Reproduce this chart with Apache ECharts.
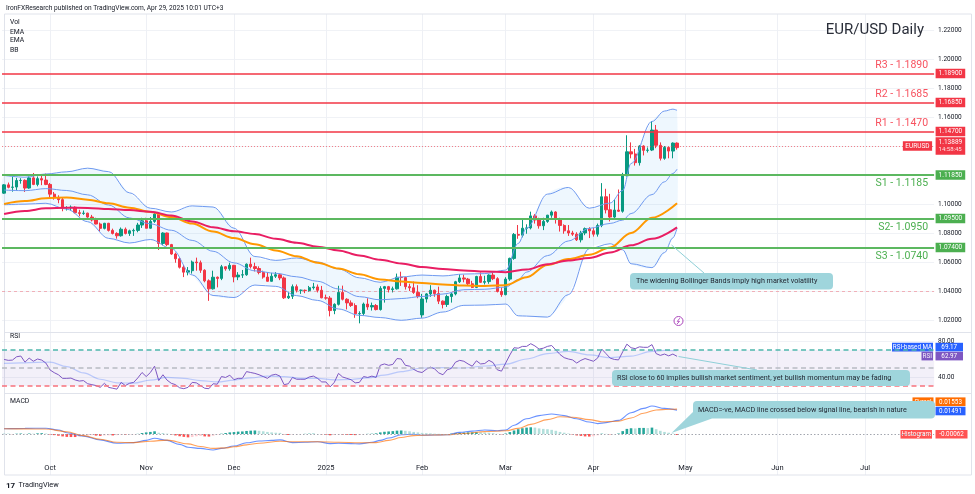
<!DOCTYPE html>
<html><head><meta charset="utf-8">
<script src="https://cdn.jsdelivr.net/npm/echarts@6/dist/echarts.min.js"></script>
<style>html,body{margin:0;padding:0;background:#fff}#c{width:975px;height:494px}</style>
</head><body><div id="c"></div>
<script>
const FONT = 'Roboto, "Noto Sans", sans-serif';

// ---- categories ----
const startDate = '2024-09-16';
const totalBars = 223;
const monthLabels = ['Oct','Nov','Dec','2025','Feb','Mar','Apr','May','Jun','Jul'];
const monthStarts = ['2024-10-01','2024-11-01','2024-12-02','2025-01-01','2025-02-03','2025-03-03','2025-04-01','2025-05-01','2025-06-02','2025-07-01'];

// ---- daily candles [open, high, low, close] ----
const ohlc = [
// Sep
[1.1075,1.1137,1.1070,1.1132],[1.1132,1.1148,1.1108,1.1115],[1.1115,1.1190,1.1085,1.1117],[1.1117,1.1180,1.1090,1.1162],
[1.1162,1.1178,1.1140,1.1163],[1.1163,1.1170,1.1083,1.1110],[1.1110,1.1190,1.1105,1.1180],[1.1180,1.1214,1.1130,1.1135],
[1.1135,1.1190,1.1122,1.1175],[1.1175,1.1202,1.1130,1.1165],[1.1165,1.1210,1.1130,1.1135],
// Oct
[1.1135,1.1145,1.1045,1.1068],[1.1068,1.1083,1.1030,1.1045],[1.1045,1.1060,1.1005,1.1030],[1.1030,1.1045,1.0950,1.0975],
[1.0975,1.0985,1.0955,1.0975],[1.0975,1.0990,1.0955,1.0978],[1.0978,1.0984,1.0935,1.0940],[1.0940,1.0960,1.0915,1.0935],
[1.0935,1.0955,1.0925,1.0937],[1.0937,1.0940,1.0905,1.0910],[1.0910,1.0925,1.0880,1.0890],[1.0890,1.0905,1.0860,1.0862],
[1.0862,1.0872,1.0810,1.0832],[1.0832,1.0870,1.0825,1.0867],[1.0867,1.0870,1.0810,1.0818],[1.0818,1.0830,1.0790,1.0797],
[1.0797,1.0805,1.0761,1.0781],[1.0781,1.0838,1.0775,1.0826],[1.0826,1.0838,1.0790,1.0797],[1.0797,1.0823,1.0780,1.0815],
[1.0815,1.0830,1.0780,1.0818],[1.0818,1.0870,1.0805,1.0855],[1.0855,1.0905,1.0835,1.0884],
// Nov
[1.0884,1.0905,1.0832,1.0833],[1.0833,1.0910,1.0830,1.0880],[1.0880,1.0937,1.0870,1.0930],[1.0930,1.0937,1.0683,1.0728],
[1.0728,1.0805,1.0715,1.0800],[1.0800,1.0803,1.0710,1.0720],[1.0720,1.0725,1.0650,1.0655],[1.0655,1.0665,1.0595,1.0622],
[1.0622,1.0635,1.0555,1.0564],[1.0564,1.0580,1.0496,1.0530],[1.0530,1.0565,1.0508,1.0540],[1.0540,1.0610,1.0520,1.0600],
[1.0600,1.0630,1.0540,1.0595],[1.0595,1.0610,1.0525,1.0543],[1.0543,1.0550,1.0460,1.0470],[1.0470,1.0480,1.0332,1.0415],
[1.0415,1.0540,1.0410,1.0495],[1.0495,1.0500,1.0425,1.0487],[1.0487,1.0580,1.0475,1.0567],[1.0567,1.0570,1.0540,1.0553],
[1.0553,1.0595,1.0540,1.0577],
// Dec
[1.0577,1.0580,1.0460,1.0497],[1.0497,1.0530,1.0475,1.0510],[1.0510,1.0545,1.0490,1.0512],[1.0512,1.0590,1.0505,1.0585],
[1.0585,1.0630,1.0555,1.0568],[1.0568,1.0595,1.0535,1.0555],[1.0555,1.0570,1.0515,1.0528],[1.0528,1.0540,1.0485,1.0496],
[1.0496,1.0530,1.0465,1.0467],[1.0467,1.0525,1.0465,1.0502],[1.0502,1.0530,1.0490,1.0512],[1.0512,1.0520,1.0475,1.0490],
[1.0490,1.0500,1.0345,1.0353],[1.0353,1.0395,1.0345,1.0364],[1.0364,1.0445,1.0345,1.0430],[1.0430,1.0445,1.0390,1.0405],
[1.0405,1.0410,1.0380,1.0405],[1.0405,1.0410,1.0385,1.0403],[1.0403,1.0435,1.0395,1.0423],[1.0423,1.0456,1.0410,1.0428],
[1.0428,1.0445,1.0390,1.0405],[1.0405,1.0435,1.0350,1.0353],
// Jan
[1.0353,1.0375,1.0340,1.0351],[1.0351,1.0365,1.0225,1.0265],[1.0265,1.0315,1.0240,1.0308],[1.0308,1.0436,1.0300,1.0390],
[1.0390,1.0437,1.0335,1.0343],[1.0343,1.0350,1.0273,1.0318],[1.0318,1.0335,1.0290,1.0300],[1.0300,1.0315,1.0215,1.0243],
[1.0243,1.0260,1.0177,1.0245],[1.0245,1.0320,1.0232,1.0310],[1.0310,1.0350,1.0270,1.0290],[1.0290,1.0320,1.0265,1.0300],
[1.0300,1.0310,1.0266,1.0272],[1.0272,1.0433,1.0265,1.0418],[1.0418,1.0435,1.0320,1.0430],[1.0430,1.0435,1.0390,1.0410],
[1.0410,1.0430,1.0390,1.0415],[1.0415,1.0520,1.0410,1.0495],[1.0495,1.0533,1.0435,1.0493],[1.0493,1.0495,1.0410,1.0430],
[1.0430,1.0450,1.0400,1.0422],[1.0422,1.0465,1.0380,1.0390],[1.0390,1.0440,1.0350,1.0362],
// Feb
[1.0235,1.0380,1.0215,1.0345],[1.0345,1.0385,1.0320,1.0380],[1.0380,1.0440,1.0360,1.0405],[1.0405,1.0410,1.0360,1.0382],
[1.0382,1.0430,1.0310,1.0330],[1.0330,1.0335,1.0280,1.0307],[1.0307,1.0375,1.0290,1.0362],[1.0362,1.0390,1.0320,1.0380],
[1.0380,1.0470,1.0370,1.0464],[1.0464,1.0515,1.0455,1.0490],[1.0490,1.0513,1.0460,1.0482],[1.0482,1.0490,1.0440,1.0450],
[1.0450,1.0470,1.0420,1.0425],[1.0425,1.0505,1.0420,1.0500],[1.0500,1.0528,1.0455,1.0460],[1.0460,1.0505,1.0445,1.0465],
[1.0465,1.0515,1.0450,1.0510],[1.0510,1.0530,1.0475,1.0485],[1.0485,1.0495,1.0390,1.0397],[1.0397,1.0425,1.0360,1.0375],
// Mar
[1.0375,1.0495,1.0370,1.0482],[1.0482,1.0630,1.0470,1.0625],[1.0625,1.0800,1.0615,1.0790],[1.0790,1.0855,1.0760,1.0785],
[1.0785,1.0890,1.0770,1.0833],[1.0833,1.0860,1.0795,1.0835],[1.0835,1.0947,1.0825,1.0918],[1.0918,1.0930,1.0865,1.0890],
[1.0890,1.0905,1.0830,1.0850],[1.0850,1.0905,1.0820,1.0880],[1.0880,1.0925,1.0870,1.0923],[1.0923,1.0955,1.0905,1.0945],
[1.0945,1.0950,1.0865,1.0900],[1.0900,1.0905,1.0810,1.0852],[1.0852,1.0860,1.0795,1.0815],[1.0815,1.0855,1.0780,1.0800],
[1.0800,1.0815,1.0780,1.0792],[1.0792,1.0805,1.0745,1.0753],[1.0753,1.0815,1.0735,1.0800],[1.0800,1.0838,1.0785,1.0830],
[1.0830,1.0840,1.0765,1.0815],
// Apr
[1.0815,1.0835,1.0775,1.0792],[1.0792,1.0865,1.0775,1.0852],[1.0852,1.1144,1.0840,1.1050],[1.1050,1.1105,1.0935,1.0960],
[1.0960,1.1070,1.0880,1.0910],[1.0910,1.1030,1.0900,1.0958],[1.0958,1.1100,1.0945,1.0950],[1.0950,1.1215,1.0940,1.1195],
[1.1195,1.1474,1.1190,1.1360],[1.1360,1.1425,1.1315,1.1345],[1.1345,1.1380,1.1265,1.1285],[1.1285,1.1405,1.1265,1.1400],
[1.1400,1.1405,1.1335,1.1370],[1.1370,1.1390,1.1355,1.1372],[1.1372,1.1572,1.1365,1.1510],[1.1510,1.1545,1.1385,1.1405],
[1.1405,1.1425,1.1300,1.1315],[1.1315,1.1400,1.1305,1.1390],[1.1390,1.1395,1.1315,1.1365],[1.1365,1.1425,1.1315,1.1420],
[1.1420,1.1425,1.1375,1.13889]
];

// ---- overlays: [barIndex, value] ----
const emaOrange = [[0,1.1000],[5,1.1020],[10,1.1040],[15,1.1045],[20,1.1030],[25,1.1005],[30,1.0975],[35,1.0945],[40,1.0910],
[45,1.0865],[50,1.0810],[55,1.0765],[60,1.0722],[65,1.0680],[70,1.0640],[75,1.0595],[80,1.0555],[85,1.0515],[90,1.0480],
[95,1.0465],[100,1.0455],[105,1.0445],[110,1.0438],[115,1.0435],[120,1.0440],[125,1.0495],[130,1.0580],[135,1.0620],
[140,1.0650],[145,1.0700],[150,1.0800],[155,1.0905],[161,1.1005]];
const emaRed = [[0,1.0931],[5,1.0952],[10,1.0970],[15,1.0975],[20,1.0973],[25,1.0966],[30,1.0958],[35,1.0947],[40,1.0920],
[45,1.0880],[50,1.0840],[55,1.0812],[60,1.0793],[65,1.0760],[70,1.0733],[75,1.0706],[80,1.0680],[85,1.0645],[90,1.0615],
[95,1.0590],[100,1.0565],[105,1.0552],[110,1.0542],[115,1.0535],[120,1.0530],[125,1.0548],[130,1.0585],[135,1.0610],
[140,1.0628],[145,1.0665],[150,1.0715],[155,1.0760],[161,1.0839]];
const bbUpper = [[0,1.1197],[5,1.1185],[10,1.1207],[15,1.1222],[20,1.1247],[25,1.1223],[30,1.1077],[35,1.0971],[40,1.0945],
[45,1.0987],[50,1.0979],[55,1.0833],[60,1.0638],[65,1.0611],[70,1.0628],[75,1.0600],[80,1.0552],[85,1.0491],[90,1.0460],
[95,1.0497],[100,1.0510],[105,1.0504],[110,1.0517],[115,1.0520],[120,1.0544],[123,1.0728],[125,1.0833],[130,1.1068],
[135,1.1114],[140,1.0971],[145,1.1007],[148,1.1093],[150,1.1279],[155,1.1569],[158,1.1641],[160,1.1654],[161,1.1646]];
const bbMid = [[0,1.1096],[5,1.1092],[10,1.1106],[15,1.1093],[20,1.1063],[25,1.0993],[30,1.0904],[35,1.0863],[40,1.0819],
[45,1.0749],[50,1.0674],[55,1.0594],[60,1.0539],[65,1.0522],[70,1.0498],[75,1.0467],[80,1.0414],[85,1.0361],[90,1.0339],
[95,1.0348],[100,1.0362],[105,1.0379],[110,1.0409],[115,1.0412],[120,1.0427],[123,1.0478],[125,1.0530],[130,1.0644],
[135,1.0745],[140,1.0832],[145,1.0866],[148,1.0889],[150,1.0934],[155,1.1065],[158,1.1153],[160,1.1210],[161,1.1240]];
const bbLower = [[0,1.0995],[5,1.0999],[10,1.1005],[15,1.0964],[20,1.0878],[25,1.0763],[30,1.0731],[35,1.0755],[40,1.0694],
[45,1.0511],[50,1.0369],[55,1.0355],[60,1.0441],[65,1.0432],[70,1.0368],[75,1.0335],[80,1.0276],[85,1.0232],[90,1.0217],
[95,1.0198],[100,1.0213],[105,1.0255],[110,1.0301],[115,1.0303],[120,1.0310],[123,1.0229],[125,1.0227],[130,1.0220],
[135,1.0375],[140,1.0692],[145,1.0726],[148,1.0684],[150,1.0588],[155,1.0561],[158,1.0665],[160,1.0766],[161,1.0834]];

// ---- RSI (daily) and its moving average ----
const rsi = [
59.5,58.5,58.8,62.5,63.3,56.5,61,57.5,60,58.8,55.5,
47.8,44.8,42.5,38.5,38.5,38.8,36.7,35.5,36,32.5,31.5,30.5,28.5,33,28.5,27.5,26.5,34,30.5,33,34,39,45,
40.5,45,52,36,42.5,36.5,33,31.5,28,27,28.5,34,33.5,30.5,27.5,27,32.5,32,40.5,39.5,42,
37,38.5,38.5,46,45,44,42.5,40.5,38.5,42,43,41,31.5,32.5,39.5,37.5,37.5,37.5,40,41,38.5,34.5,
34.5,29,34,44,40,38.5,37,33.5,34,40.5,39.5,41,39.5,53,54.5,53,54,60.5,60,53,52,48.5,46,
45,48.5,51,49,44.5,42.5,48,49.5,56.5,58.5,57.5,54.5,52,58,54.5,55,58.5,56,48,46.5,
55.5,64.5,72.5,72,74,74,77,74.5,71,72,74,75,70,65,61.5,60,59,55.5,58.5,60.5,59,
57.5,61,71,66,61,59.5,59,68,76.5,72.5,71.5,73.5,73,73,76,66,64,65.5,63.5,65.5,62.97
];
const rsiMA = [[0,55.2],[4,55.8],[8,56.3],[11,56.5],[15,51.5],[19,44.5],[23,37.5],[27,33.5],[31,33.2],[35,36.5],[39,39.5],
[43,38.5],[47,36],[51,34.5],[55,36.5],[59,39],[63,41],[67,40.5],[71,38.5],[75,38.5],[79,36.8],[83,37.2],[87,39],[91,42],
[95,46],[100,50],[105,50.5],[110,50],[115,52.2],[120,54.3],[125,60],[130,66],[135,68.5],[140,64.5],[145,61.5],[150,63.2],
[155,68.5],[158,69.5],[161,69.17]];
const rsiLevels = [70, 50, 30];

// ---- MACD ----
const macdLine = [[0,0.0033],[5,0.0035],[10,0.0036],[13,0.0025],[15,0.0008],[19,-0.0013],[23,-0.0037],[27,-0.0058],[31,-0.0054],
[34,-0.0040],[36,-0.0027],[39,-0.0040],[42,-0.0065],[44,-0.0083],[47,-0.0090],[50,-0.0100],[52,-0.0090],[55,-0.0075],
[58,-0.0055],[61,-0.0044],[64,-0.0040],[66,-0.0037],[69,-0.0054],[72,-0.0052],[75,-0.0048],[78,-0.0060],[80,-0.0058],
[83,-0.0060],[85,-0.0062],[88,-0.0052],[90,-0.0040],[92,-0.0025],[95,-0.0005],[98,-0.0002],[100,-0.0008],[103,-0.0006],
[106,-0.0005],[109,0.0010],[112,0.0018],[115,0.0025],[118,0.0020],[120,0.0025],[122,0.0055],[125,0.0095],[128,0.0115],
[131,0.0125],[134,0.0115],[137,0.0095],[140,0.0075],[142,0.0065],[144,0.0071],[147,0.0085],[150,0.0133],[153,0.0160],
[155,0.0175],[158,0.0160],[161,0.01491]];
const signalLine = [[0,0.0033],[5,0.0032],[10,0.0031],[15,0.0014],[19,-0.0010],[23,-0.0033],[27,-0.0052],[31,-0.0054],
[35,-0.0045],[39,-0.0038],[44,-0.0062],[47,-0.0078],[50,-0.0090],[53,-0.0087],[55,-0.0080],[58,-0.0068],[61,-0.0058],
[66,-0.0045],[69,-0.0048],[75,-0.0048],[80,-0.0052],[85,-0.0055],[89,-0.0054],[92,-0.0040],[95,-0.0022],[98,-0.0010],
[102,-0.0006],[106,-0.0005],[110,0.0003],[115,0.0015],[120,0.0020],[123,0.0035],[126,0.0060],[130,0.0090],[133,0.0108],
[136,0.0105],[140,0.0090],[143,0.0077],[147,0.0080],[150,0.0100],[153,0.0130],[156,0.0150],[159,0.0155],[161,0.01553]];
const histogram = [
0.0001,0.0001,-0.0001,0.0002,0.0003,0.0001,0.0003,0.0002,0.0004,0.0005,0.0003,
-0.0003,-0.0007,-0.0011,-0.0015,-0.0018,-0.0019,-0.0019,-0.0016,-0.0012,-0.0009,-0.0007,
-0.0010,-0.0012,-0.0009,-0.0008,-0.0009,-0.0007,-0.0005,-0.0005,-0.0003,-0.0002,0.0001,
0.0006,0.0010,0.0013,0.0017,0.0008,0.0006,0.0002,-0.0004,-0.0009,
-0.0014,-0.0018,-0.0021,-0.0019,-0.0014,-0.0012,-0.0015,-0.0016,-0.0011,-0.0004,
0.0002,0.0006,0.0010,0.0012,0.0015,0.0016,0.0019,0.0021,0.0022,0.0020,
0.0017,0.0013,0.0010,0.0008,0.0007,-0.0002,-0.0006,
-0.0003,-0.0002,-0.0001,0.0001,0.0002,0.0002,0.0000,-0.0002,-0.0004,-0.0008,-0.0006,
-0.0003,-0.0004,-0.0005,-0.0006,-0.0007,-0.0006,-0.0002,
0.0001,0.0002,0.0004,0.0010,0.0014,0.0016,0.0018,0.0021,0.0022,
0.0020,0.0017,0.0013,0.0010,0.0007,0.0005,0.0004,0.0002,0.0001,-0.0001,0.0000,0.0002,0.0005,
0.0007,0.0009,0.0010,0.0010,0.0011,0.0010,0.0009,0.0008,0.0005,0.0001,-0.0002,0.0003,
0.0012,0.0022,0.0030,0.0036,0.0040,0.0042,0.0040,0.0035,
0.0032,0.0030,0.0026,0.0020,0.0013,0.0008,0.0003,
-0.0003,-0.0009,-0.0012,-0.0015,-0.0016,-0.0014,-0.0008,
0.0002,0.0001,-0.0002,0.0000,0.0003,
0.0018,0.0032,0.0036,0.0035,0.0038,0.0038,0.0037,0.0040,0.0030,
0.0020,0.0013,0.0008,0.0003,-0.00062
];

// ---- drawn levels ----
const levels = [
  {name:'R3 - 1.1890', value:1.1890, side:'R'},
  {name:'R2 - 1.1685', value:1.1685, side:'R'},
  {name:'R1 - 1.1470', value:1.1470, side:'R'},
  {name:'S1 - 1.1185', value:1.1185, side:'S'},
  {name:'S2- 1.0950', value:1.0950, side:'S'},
  {name:'S3 - 1.0740', value:1.0740, side:'S'}
];
const lastPrice = 1.13889;
const countdown = '14:58:45';
const refDashed = 1.0418;

// ---- build ----
const dates = [];
(function(){
  let t = Date.parse(startDate + 'T00:00:00Z');
  while (dates.length < totalBars) {
    const d = new Date(t); const w = d.getUTCDay();
    if (w !== 0 && w !== 6) dates.push(d.toISOString().slice(0,10));
    t += 86400000;
  }
})();
const monthIdx = {};
monthStarts.forEach((s,k) => { monthIdx[dates.indexOf(s)] = monthLabels[k]; });

const candleData = ohlc.map(r => [r[0], r[3], r[2], r[1]]);
const histData = histogram.map((v,i) => {
  const p = i > 0 ? histogram[i-1] : 0;
  let c;
  if (v >= 0) c = v >= p ? '#26a69a' : '#b2dfdb';
  else c = v <= p ? '#ff5252' : '#ffcdd2';
  return {value: v, itemStyle: {color: c}};
});

const HIDDEN = {color: 'rgba(0,0,0,0)', width: 0, opacity: 1};
const markData = [];
levels.forEach(l => {
  const isR = l.side === 'R';
  const lc = isR ? '#f23645' : '#4caf50';
  markData.push({yAxis: l.value, lineStyle: {color: isR ? '#f23645' : '#5cb860', width: isR ? 1.5 : 1.8, type: 'solid', opacity: 1},
    label: {show: true, position: isR ? 'insideEndTop' : 'insideEndBottom', formatter: l.name,
      color: isR ? '#f7525f' : '#4caf50', fontSize: 10.5, fontFamily: FONT, distance: [6, 3]}});
  markData.push({yAxis: l.value, lineStyle: HIDDEN,
    label: {show: true, position: 'end', formatter: l.value.toFixed(5), color: '#fff', backgroundColor: lc,
      fontSize: 6.5, fontFamily: FONT, padding: [1.5, 3, 1, 3], distance: 1.5}});
});
markData.push({yAxis: lastPrice, lineStyle: {color: 'rgba(242,54,69,0.6)', type: [1, 2], width: 1, opacity: 1},
  label: {show: true, position: 'insideEnd', formatter: 'EURUSD', color: '#fff', backgroundColor: '#f23645',
    fontSize: 6.5, fontFamily: FONT, padding: [1.5, 2.5, 1, 2.5], distance: 2}});
markData.push({yAxis: lastPrice, lineStyle: HIDDEN,
  label: {show: true, position: 'end', formatter: '{a|' + lastPrice.toFixed(5) + '}\n{b|' + countdown + '}',
    backgroundColor: '#f23645', padding: [1.5, 3, 1.5, 3], distance: 1.5,
    rich: {a: {color: '#fff', fontSize: 6.5, lineHeight: 7.5, fontFamily: FONT}, b: {color: '#ffe0e3', fontSize: 6, lineHeight: 7, fontFamily: FONT}}}});
markData.push({yAxis: refDashed, lineStyle: {color: 'rgba(242,54,69,0.35)', type: [3, 3], width: 1}, label: {show: false}});

function lineSeries(name, data, xi, yi, color, width, extra) {
  return Object.assign({name, type: 'line', data, xAxisIndex: xi, yAxisIndex: yi, symbol: 'none', showSymbol: false,
    smooth: 0.35, smoothMonotone: 'x', silent: true, lineStyle: {color, width}, z: 3}, extra || {});
}

const BBC = '#6f9af0';
const series = [
  {type: 'custom', name: 'BB fill', xAxisIndex: 1, yAxisIndex: 0, data: [[bbUpper[0][0], bbUpper[0][1]]], silent: true, z: 1,
    renderItem: (params, api) => {
      if (params.dataIndex !== 0) return;
      const pts = bbUpper.map(p => api.coord([p[0], p[1]]))
        .concat(bbLower.slice().reverse().map(p => api.coord([p[0], p[1]])));
      return {type: 'polygon', shape: {points: pts, smooth: 0.3}, style: {fill: 'rgba(33,150,243,0.075)'}};
    }},
  {type: 'candlestick', name: 'EURUSD', xAxisIndex: 0, yAxisIndex: 0, data: candleData, barWidth: '68%', silent: true, z: 2,
    itemStyle: {color: '#089981', color0: '#f23645', borderColor: '#089981', borderColor0: '#f23645', borderWidth: 1},
    markLine: {silent: true, symbol: ['none', 'none'], animation: false, data: markData, z: 6}},
  lineSeries('BB lower', bbLower, 1, 0, BBC, 1),
  lineSeries('BB upper', bbUpper, 1, 0, BBC, 1),
  lineSeries('BB basis', bbMid, 1, 0, BBC, 1),
  lineSeries('EMA', emaOrange, 1, 0, '#ff9800', 2),
  lineSeries('EMA', emaRed, 1, 0, '#e91e63', 2),
  {type: 'line', name: 'RSI', xAxisIndex: 2, yAxisIndex: 1, data: rsi, symbol: 'none', silent: true,
    lineStyle: {color: '#7e57c2', width: 1}, z: 3,
    markArea: {silent: true, itemStyle: {color: 'rgba(126,87,194,0.09)'}, data: [[{yAxis: rsiLevels[2]}, {yAxis: rsiLevels[0]}]]},
    markLine: {silent: true, symbol: ['none', 'none'], label: {show: false}, data: [
      {yAxis: rsiLevels[0], lineStyle: {color: '#4db6ac', type: [5, 3.5], width: 1.6}},
      {yAxis: rsiLevels[1], lineStyle: {color: '#b8bac2', type: [5, 3.5], width: 1.6}},
      {yAxis: rsiLevels[2], lineStyle: {color: '#f7727c', type: [5, 3.5], width: 1.6}}]}},
  lineSeries('RSI-based MA', rsiMA, 3, 1, 'rgba(41,98,255,0.28)', 1.2),
  {type: 'bar', name: 'Histogram', xAxisIndex: 4, yAxisIndex: 2, data: histData, barWidth: '62%', silent: true, z: 2,
    markLine: {silent: true, symbol: ['none', 'none'], label: {show: false},
      data: [{yAxis: 0, lineStyle: {color: '#a3a6af', type: [1.5, 2], width: 1}}]}},
  lineSeries('MACD', macdLine, 5, 2, 'rgba(41,98,255,0.7)', 1.1),
  lineSeries('Signal', signalLine, 5, 2, 'rgba(255,109,0,0.65)', 1.1)
];

function tag(x, y, w, h, color, text, fs) {
  return {type: 'group', z: 120, children: [
    {type: 'rect', shape: {x, y, width: w, height: h}, style: {fill: color}},
    {type: 'text', x: x + w / 2, y: y + h / 2 + 0.3, style: {text, fill: '#fff', fontSize: fs || 6.3, fontFamily: FONT, textAlign: 'center', textVerticalAlign: 'middle'}}
  ]};
}
function txt(x, y, text, fs, color, align, weight) {
  return {type: 'text', x, y, z: 110, style: {text, fontSize: fs, fill: color || '#131722', fontFamily: FONT,
    textAlign: align || 'left', textVerticalAlign: 'middle', fontWeight: weight || 'normal'}};
}
const NOTE = '#9fd5dc';
const NOTE_LINE = '#8fd0d8';
const lastRsi = rsi[rsi.length - 1].toFixed(2);
const lastRsiMA = rsiMA[rsiMA.length - 1][1].toFixed(2);
const lastMacd = macdLine[macdLine.length - 1][1].toFixed(5);
const lastSignal = signalLine[signalLine.length - 1][1].toFixed(5);
const lastHist = histogram[histogram.length - 1].toFixed(5);

const graphic = [
  {type: 'rect', z: 1, silent: true, shape: {x: 4.5, y: 14, width: 967, height: 461}, style: {fill: 'none', stroke: '#e0e3eb', lineWidth: 1}},
  {type: 'line', z: 1, silent: true, shape: {x1: 4.5, y1: 332.5, x2: 971.5, y2: 332.5}, style: {stroke: '#e0e3eb', lineWidth: 1}},
  {type: 'line', z: 1, silent: true, shape: {x1: 4.5, y1: 393.5, x2: 971.5, y2: 393.5}, style: {stroke: '#e0e3eb', lineWidth: 1}},
  txt(6, 8.5, 'IronFXResearch published on TradingView.com, Apr 29, 2025 10:01 UTC+3', 6.6),
  txt(10, 22.7, 'Vol', 6.8), txt(10, 32, 'EMA', 6.8), txt(10, 40.5, 'EMA', 6.8), txt(10, 50, 'BB', 6.8),
  txt(924, 30, 'EUR/USD Daily', 15, '#2a2e39', 'right'),
  txt(10, 336.5, 'RSI', 6.8), txt(10, 401.5, 'MACD', 6.8),
  {type: 'circle', z: 110, shape: {cx: 678.5, cy: 321, r: 4.5}, style: {fill: '#fff', stroke: '#ab47bc', lineWidth: 1}},
  {type: 'polyline', z: 111, shape: {points: [[679.8, 318.2], [677.3, 321.4], [679.5, 321.4], [677, 324]]}, style: {stroke: '#ab47bc', lineWidth: 0.9, fill: 'none'}},
  {type: 'line', z: 100, shape: {x1: 671.5, y1: 245, x2: 704, y2: 273}, style: {stroke: NOTE_LINE, lineWidth: 1}},
  {type: 'rect', z: 105, shape: {x: 630, y: 273, width: 203, height: 16.5, r: 4}, style: {fill: NOTE}},
  txt(636, 281.5, 'The widening Bollinger Bands imply high market volatility', 7.2, '#1e222d'),
  {type: 'line', z: 100, shape: {x1: 678.5, y1: 356.5, x2: 757, y2: 370}, style: {stroke: NOTE_LINE, lineWidth: 1}},
  {type: 'rect', z: 105, shape: {x: 612, y: 370, width: 298, height: 16, r: 4}, style: {fill: NOTE}},
  txt(617, 378.2, 'RSI close to 60 implies bullish market sentiment, yet bullish momentum may be fading', 7.2, '#1e222d'),
  {type: 'polygon', z: 104, shape: {points: [[694, 411], [712, 418.5], [671.5, 433]]}, style: {fill: NOTE}},
  {type: 'rect', z: 105, shape: {x: 693, y: 401, width: 242, height: 17.5, r: 4}, style: {fill: NOTE}},
  txt(698, 410, 'MACD=-ve, MACD line crossed below signal line, bearish in nature', 7.2, '#1e222d'),
  tag(892, 342.8, 41, 8.6, '#2962ff', 'RSI-based MA'), tag(935.5, 342.8, 27.5, 8.6, '#2962ff', lastRsiMA),
  tag(921.5, 351.8, 11.5, 8.6, '#7e57c2', 'RSI'), tag(935.5, 351.8, 27.5, 8.6, '#7e57c2', lastRsi),
  tag(912.5, 397.4, 21, 8.6, '#ff6d00', 'Signal'), tag(935.5, 397.4, 30, 8.6, '#ff6d00', lastSignal),
  tag(912.5, 406.7, 21, 8.6, '#2962ff', 'MACD'), tag(935.5, 406.7, 30, 8.6, '#2962ff', lastMacd),
  tag(900.5, 430, 31.5, 8.6, '#ff5252', 'Histogram'), tag(935.5, 430, 32, 8.6, '#ff5252', lastHist),
  txt(6, 485.5, '17', 8, '#131722', 'left', 'bold'),
  txt(18.5, 485.5, 'TradingView', 7.3, '#131722')
];

const option = {
  animation: false,
  backgroundColor: '#ffffff',
  textStyle: {fontFamily: FONT},
  grid: [
    {left: 2, top: 1, width: 932.1, height: 348},
    {left: 2, top: 305, width: 932.1, height: 108},
    {left: 2, top: 394, width: 932.1, height: 63},
    {left: 4.09, top: 14, width: 927.96, height: 461}
  ],
  xAxis: [
    {type: 'category', gridIndex: 0, data: dates, show: false},
    {type: 'value', gridIndex: 0, min: -0.5, max: totalBars - 0.5, show: false},
    {type: 'category', gridIndex: 1, data: dates, show: false},
    {type: 'value', gridIndex: 1, min: -0.5, max: totalBars - 0.5, show: false},
    {type: 'category', gridIndex: 2, data: dates, axisLine: {show: false}, axisTick: {show: false}, splitLine: {show: false},
      axisLabel: {interval: (i) => monthIdx[i] !== undefined, formatter: (v, i) => monthIdx[i] || '',
        color: '#131722', fontSize: 7.5, margin: 7, fontFamily: FONT}},
    {type: 'value', gridIndex: 2, min: -0.5, max: totalBars - 0.5, show: false},
    {type: 'category', gridIndex: 3, data: dates, boundaryGap: false, axisLine: {show: false}, axisTick: {show: false},
      axisLabel: {show: false}, splitLine: {show: true, interval: (i) => monthIdx[i] !== undefined, lineStyle: {color: '#eef0f5', width: 1}}}
  ],
  yAxis: [
    {type: 'value', gridIndex: 0, position: 'right', min: 1.00, max: 1.24, interval: 0.02, axisLine: {show: false}, axisTick: {show: false},
      axisLabel: {showMinLabel: false, showMaxLabel: false, formatter: v => v.toFixed(5), color: '#131722', fontSize: 6.5, margin: 4, fontFamily: FONT},
      splitLine: {show: true, showMinLine: false, showMaxLine: false, lineStyle: {color: '#f0f2f6'}}},
    {type: 'value', gridIndex: 1, position: 'right', min: 0, max: 120, interval: 40, axisLine: {show: false}, axisTick: {show: false},
      axisLabel: {showMinLabel: false, showMaxLabel: false, formatter: v => v.toFixed(2), color: '#131722', fontSize: 6.5, margin: 4, fontFamily: FONT},
      splitLine: {show: true, showMinLine: false, showMaxLine: false, lineStyle: {color: '#f0f2f6'}}},
    {type: 'value', gridIndex: 2, position: 'right', min: -0.014375, max: 0.025, show: false},
    {type: 'value', gridIndex: 3, min: 0, max: 1, show: false}
  ],
  series,
  graphic
};
const chart = echarts.init(document.getElementById('c'), null, {renderer: 'canvas'});
chart.setOption(option);
</script>
</body></html>
